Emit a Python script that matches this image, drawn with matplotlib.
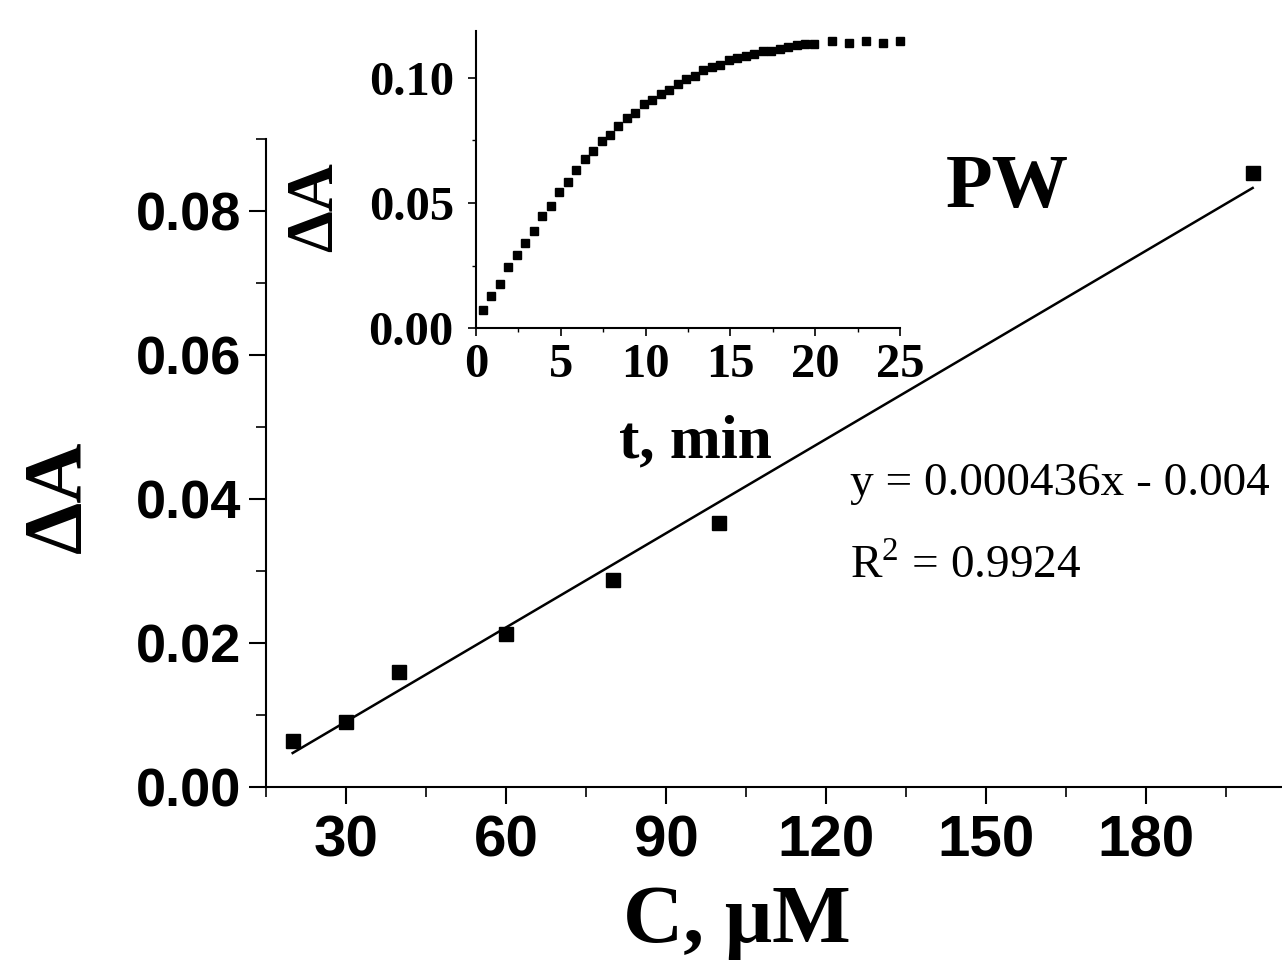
import numpy as np
import matplotlib
matplotlib.use('Agg')
import matplotlib.pyplot as plt
from matplotlib.ticker import MultipleLocator, FormatStrFormatter

# calibration data (main plot)
conc = [20, 30, 40, 60, 80, 100, 200]
dA = [0.0064, 0.0090, 0.0160, 0.0212, 0.0288, 0.0366, 0.0853]
slope = 0.000436
intercept = -0.004
fit_range = [20, 200]

# kinetics (inset)
t_min = [0.4, 0.9, 1.4, 1.9, 2.4, 2.9, 3.4, 3.9, 4.4, 4.9,
         5.4, 5.9, 6.4, 6.9, 7.4, 7.9, 8.4, 8.9, 9.4, 9.9,
         10.4, 10.9, 11.4, 11.9, 12.4, 12.9, 13.4, 13.9, 14.4, 14.9,
         15.4, 15.9, 16.4, 16.9, 17.4, 17.9, 18.4, 18.9, 19.4, 19.9,
         21.0, 22.0, 23.0, 24.0, 25.0]
dA_t = [0.0072, 0.0128, 0.0176, 0.0243, 0.0291, 0.0341, 0.0389, 0.0448, 0.0487, 0.0546,
        0.0585, 0.0634, 0.0676, 0.0709, 0.0748, 0.0774, 0.0807, 0.0839, 0.0861, 0.0898,
        0.0914, 0.0937, 0.0954, 0.0976, 0.0996, 0.1009, 0.1032, 0.1044, 0.1054, 0.1071,
        0.1081, 0.1088, 0.1097, 0.1107, 0.1109, 0.1117, 0.1125, 0.1133, 0.1135, 0.1135,
        0.1150, 0.1142, 0.1150, 0.1142, 0.1150]

W, H = 1282, 960
sans = 'Liberation Sans'
serif = 'Liberation Serif'


def fx(px):
    return px / W


def fy(py):
    return 1 - py / H


fig = plt.figure(figsize=(W / 100, H / 100), dpi=100)

# main axes
ax = fig.add_axes([fx(266), fy(787), fx(W - 266), (787 - 139) / H])
ax.plot(conc, dA, 's', color='black', markersize=10, clip_on=False)
fx_line = np.array(fit_range)
ax.plot(fx_line, slope * fx_line + intercept, '-', color='black', linewidth=1.8)
ax.set_xlim(15, 205.5)
ax.set_ylim(0, 0.09)
ax.xaxis.set_minor_locator(MultipleLocator(15))
ax.yaxis.set_major_locator(MultipleLocator(0.02))
ax.yaxis.set_minor_locator(MultipleLocator(0.01))
ax.set_xticks([30, 60, 90, 120, 150, 180])
ax.yaxis.set_major_formatter(FormatStrFormatter('%.2f'))
for s in ['top', 'right']:
    ax.spines[s].set_visible(False)
for s in ['left', 'bottom']:
    ax.spines[s].set_linewidth(1.5)
ax.tick_params(which='major', direction='out', length=12, width=1.5)
ax.tick_params(which='minor', direction='out', length=7, width=1.2)
ax.tick_params(axis='x', which='major', pad=8)
ax.tick_params(axis='y', which='major', pad=6)
for lab in ax.get_xticklabels():
    lab.set_fontfamily(sans)
    lab.set_fontweight('bold')
    lab.set_fontsize(42)
for lab in ax.get_yticklabels():
    lab.set_fontfamily(sans)
    lab.set_fontweight('bold')
    lab.set_fontsize(39)

fig.text(fx(60), fy(497), '\u0394A', family=serif, weight='bold', fontsize=60,
         rotation=90, ha='center', va='center')
fig.text(fx(737), fy(942), 'C, \u03bcM', family=serif, weight='bold', fontsize=60,
         ha='center', va='baseline')
fig.text(fx(946), fy(207), 'PW', family=serif, weight='bold', fontsize=55,
         ha='left', va='baseline')
fig.text(fx(850), fy(495), 'y = 0.000436x - 0.004', family=serif, fontsize=34,
         ha='left', va='baseline')
fig.text(fx(850), fy(578), 'R$^{\\mathregular{2}}$ = 0.9924', family=serif, fontsize=34,
         ha='left', va='baseline')

# inset
ins = fig.add_axes([fx(476), fy(328), fx(900 - 476), 0.119 * 2500 / H])
ins.plot(t_min, dA_t, 's', color='black', markersize=6, clip_on=False)
ins.set_xlim(0, 25)
ins.set_ylim(0, 0.119)
ins.xaxis.set_major_locator(MultipleLocator(5))
ins.xaxis.set_minor_locator(MultipleLocator(2.5))
ins.yaxis.set_major_locator(MultipleLocator(0.05))
ins.yaxis.set_minor_locator(MultipleLocator(0.025))
ins.yaxis.set_major_formatter(FormatStrFormatter('%.2f'))
for s in ['top', 'right']:
    ins.spines[s].set_visible(False)
for s in ['left', 'bottom']:
    ins.spines[s].set_linewidth(1.5)
ins.tick_params(which='major', direction='out', length=6, width=1.2)
ins.tick_params(which='minor', direction='out', length=3, width=1.0)
ins.tick_params(axis='y', which='major', pad=10)
ins.tick_params(axis='x', which='major', pad=5)
for lab in ins.get_xticklabels() + ins.get_yticklabels():
    lab.set_fontfamily(serif)
    lab.set_fontweight('bold')
    lab.set_fontsize(35)

fig.text(fx(316), fy(207), '\u0394A', family=serif, weight='bold', fontsize=48,
         rotation=90, ha='center', va='center')
fig.text(fx(695), fy(457), 't, min', family=serif, weight='bold', fontsize=44,
         ha='center', va='baseline')

fig.savefig('out.png', dpi=100)
